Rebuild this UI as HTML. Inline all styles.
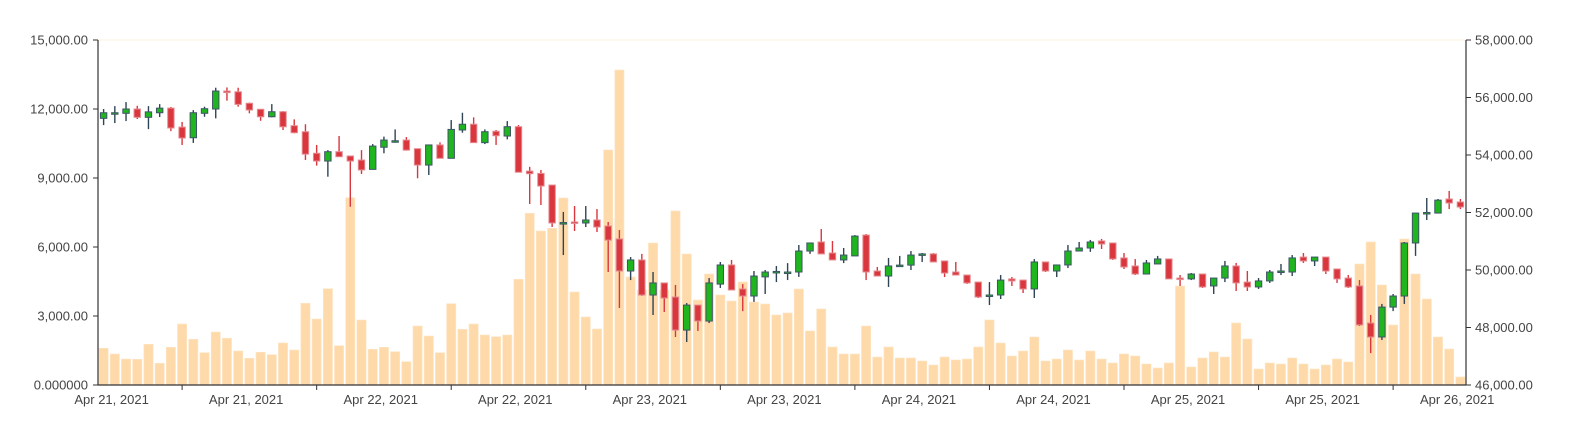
<!DOCTYPE html>
<html><head><meta charset="utf-8"><style>
html,body{margin:0;padding:0;background:#fff;}
svg{display:block;font-family:"Liberation Sans",sans-serif;}
</style></head><body>
<svg id="chart" width="1588" height="427" viewBox="0 0 1588 427"></svg>
<script>
const dateLabels=["Apr 21, 2021","Apr 21, 2021","Apr 22, 2021","Apr 22, 2021","Apr 23, 2021","Apr 23, 2021","Apr 24, 2021","Apr 24, 2021","Apr 25, 2021","Apr 25, 2021","Apr 26, 2021"];
const leftTicks=[0,3000,6000,9000,12000,15000];
const leftTickLabels=["0.000000","3,000.00","6,000.00","9,000.00","12,000.00","15,000.00"];
const rightTicks=[46000,48000,50000,52000,54000,56000,58000];
const rightTickLabels=["46,000.00","48,000.00","50,000.00","52,000.00","54,000.00","56,000.00","58,000.00"];
const openP=[55275,55460,55450,55600,55310,55470,55630,54970,54600,55450,55600,56225,56200,55800,55590,55330,55505,55020,54810,54060,53790,54115,53965,53825,53500,54270,54486,54520,54220,53650,54350,53885,54870,55070,54430,54825,54660,54985,53440,53360,52955,51635,51670,51635,51740,51530,51080,49965,50350,49130,49550,49060,47910,48780,48225,49510,50175,49340,49095,49760,49930,49915,49930,50660,50975,50590,50350,50490,51215,49965,49790,50155,50170,50540,50560,50315,49930,49825,49580,49115,49130,49690,49650,49340,50280,49965,50175,50660,50765,51010,50940,50420,50140,49860,50210,50385,49720,49690,49860,49445,49720,50140,49580,49410,49620,49930,49930,50450,50315,50450,50035,49720,49445,48155,47670,48710,49095,50940,51980,51980,52470,52365];
const closeP=[55470,55470,55600,55310,55500,55630,54940,54590,55470,55610,56225,56170,55760,55565,55330,55505,54980,54775,54030,53790,54115,53940,53790,53480,54310,54520,54496,54170,53650,54350,53885,54890,55070,54430,54810,54670,54985,53400,53350,52920,51635,51650,51635,51740,51495,51040,49965,50350,49130,49550,49025,47910,48780,48225,49550,50175,49305,49095,49790,49930,49950,49930,50660,50940,50560,50350,50520,51180,49930,49790,50140,50170,50520,50560,50280,49895,49825,49550,49060,49130,49650,49620,49340,50280,49965,50175,50660,50765,50975,50905,50385,50105,49860,50245,50385,49690,49690,49860,49410,49720,50140,49550,49410,49620,49930,49965,50420,50315,50450,49965,49690,49410,48090,47670,48710,49095,50940,51980,52000,52430,52330,52190];
const highP=[55600,55700,55840,55710,55700,55770,55670,55150,55560,55680,56340,56350,56340,55820,55600,55770,55530,55240,55070,54350,54170,54660,53965,54170,54380,54640,54890,54625,54220,54350,54440,55215,55470,55310,54890,54870,55180,55040,53590,53480,52955,52020,52225,52225,52120,51670,51390,50450,50560,49930,49550,49480,48850,48780,49720,50280,50350,49510,49965,50000,50140,50240,50870,50940,51425,51010,50765,51215,51250,50105,50420,50490,50660,50590,50590,50315,50280,49825,49580,49580,49825,49755,49650,50380,50280,50175,50870,50975,51045,51080,50940,50590,50380,50350,50490,50385,49825,49895,49860,49720,50315,50245,49965,49720,50000,50210,50520,50590,50450,50450,50035,49825,49650,48435,48820,49165,50975,51980,52505,52470,52750,52470];
const lowP=[55040,55110,55180,55250,54900,55320,54830,54350,54420,55330,55275,55890,55680,55450,55190,55310,54870,54755,53825,53630,53245,53940,52200,53340,53500,54060,54430,54150,53190,53305,53885,53885,54775,54430,54380,54350,54545,53400,52295,52260,51495,50520,51355,51495,51320,49930,48680,49650,49100,48435,48540,47670,47495,47880,48155,49375,49305,48570,48890,49165,49580,49650,49760,50560,50560,50350,50240,50490,49650,49790,49410,50105,50000,50280,50280,49755,49825,49515,49025,48780,48990,49445,49200,49025,49930,49755,50070,50660,50630,50730,50350,50035,49825,49860,50210,49690,49445,49650,49375,49165,49580,49270,49270,49340,49550,49825,49790,50245,50140,49860,49550,49375,48050,47110,47565,48570,48820,50490,51740,51980,52120,52120];
const volume=[1596,1348,1130,1117,1770,943,1639,2652,1987,1404,2304,2030,1478,1161,1422,1317,1826,1522,3552,2870,4187,1709,8144,2826,1552,1639,1448,1013,2565,2130,1404,3535,2422,2652,2174,2100,2174,4596,7466,6696,6813,8131,4044,2957,2435,10218,13696,4696,4131,6174,4131,7566,5696,3696,4826,3913,3652,4478,3609,3522,3044,3131,4174,2348,3305,1652,1348,1348,2565,1217,1652,1174,1174,1044,870,1217,1087,1130,1652,2826,1826,1261,1478,2087,1044,1130,1522,1087,1478,1130,957,1348,1261,913,739,957,4304,783,1174,1435,1217,2696,2000,696,957,913,1174,913,696,870,1130,1000,5261,6218,4348,2609,6348,4826,3739,2087,1565,348];

const NS="http://www.w3.org/2000/svg";
const svg=document.getElementById('chart');
const X0=98,X1=1466,Y0=385,Y1=40;
const N=openP.length, band=(X1-X0)/N;
const xc=i=>X0+band*(i+0.5);
const vy=v=>Y0-(v/15000)*(Y0-Y1);
const py=p=>Y0-((p-46000)/12000)*(Y0-Y1);
function mk(tag,attrs,parent){const e=document.createElementNS(NS,tag);for(const k in attrs)e.setAttribute(k,attrs[k]);(parent||svg).appendChild(e);return e;}

const topGrid=mk('line',{x1:X0,x2:X1,y1:Y1,y2:Y1,stroke:'#fbf3dc','stroke-width':1});



const gv=mk('g',{});


volume.forEach((v,i)=>{
  const w=band*0.82;
  const r=mk('rect',{x:xc(i)-w/2,y:vy(v),width:w,height:Y0-vy(v),fill:'#fedaaa',stroke:'#fde5c4','stroke-width':0.6},gv);
  
  
});

const gc=mk('g',{});


openP.forEach((o,i)=>{
  const c=closeP[i],up=c>=o;
  const x=xc(i);
  const g=mk('g',{},gc);
  
  
  const wc=up?'#2f4554':'#d9363e';
  mk('line',{x1:x,x2:x,y1:py(highP[i]),y2:py(lowP[i]),stroke:wc,'stroke-width':1.4},g);
  const yT=py(Math.max(o,c)),yB=py(Math.min(o,c));
  const w=6.4;
  mk('rect',{x:x-w/2,y:yT,width:w,height:Math.max(yB-yT,1.5),fill:up?'#1fb51f':'#d9363e',stroke:up?'#3d5566':'#e58b90','stroke-width':1},g);
});

const ax=mk('g',{'font-size':13,fill:'#444'});


const la=mk('line',{x1:X0,x2:X0,y1:Y1,y2:Y0,stroke:'#333','stroke-width':1.2},ax);


leftTicks.forEach((t,k)=>{
  const y=vy(t);
  mk('line',{x1:X0-5,x2:X0,y1:y,y2:y,stroke:'#333'},ax);
  const tx=mk('text',{x:X0-10,y:y+4.5,'text-anchor':'end'},ax);
  tx.textContent=leftTickLabels[k];
  
  
});
const ra=mk('line',{x1:X1,x2:X1,y1:Y1,y2:Y0,stroke:'#333','stroke-width':1.2},ax);


rightTicks.forEach((t,k)=>{
  const y=py(t);
  mk('line',{x1:X1,x2:X1+5,y1:y,y2:y,stroke:'#333'},ax);
  const tx=mk('text',{x:X1+9,y:y+4.5,'text-anchor':'start'},ax);
  tx.textContent=rightTickLabels[k];
  
  
});
const ba=mk('line',{x1:X0,x2:X1,y1:Y0,y2:Y0,stroke:'#333','stroke-width':1.2},ax);


for(let k=0;k<10;k++){
  const x=xc(7+12*k);
  mk('line',{x1:x,x2:x,y1:Y0,y2:Y0+5,stroke:'#333'},ax);
}
dateLabels.forEach((s,k)=>{
  const x=xc(7+12*k)-70.5;
  const tx=mk('text',{x:x,y:404,'text-anchor':'middle'},ax);
  tx.textContent=s;
  
  
});
</script>
</body></html>
